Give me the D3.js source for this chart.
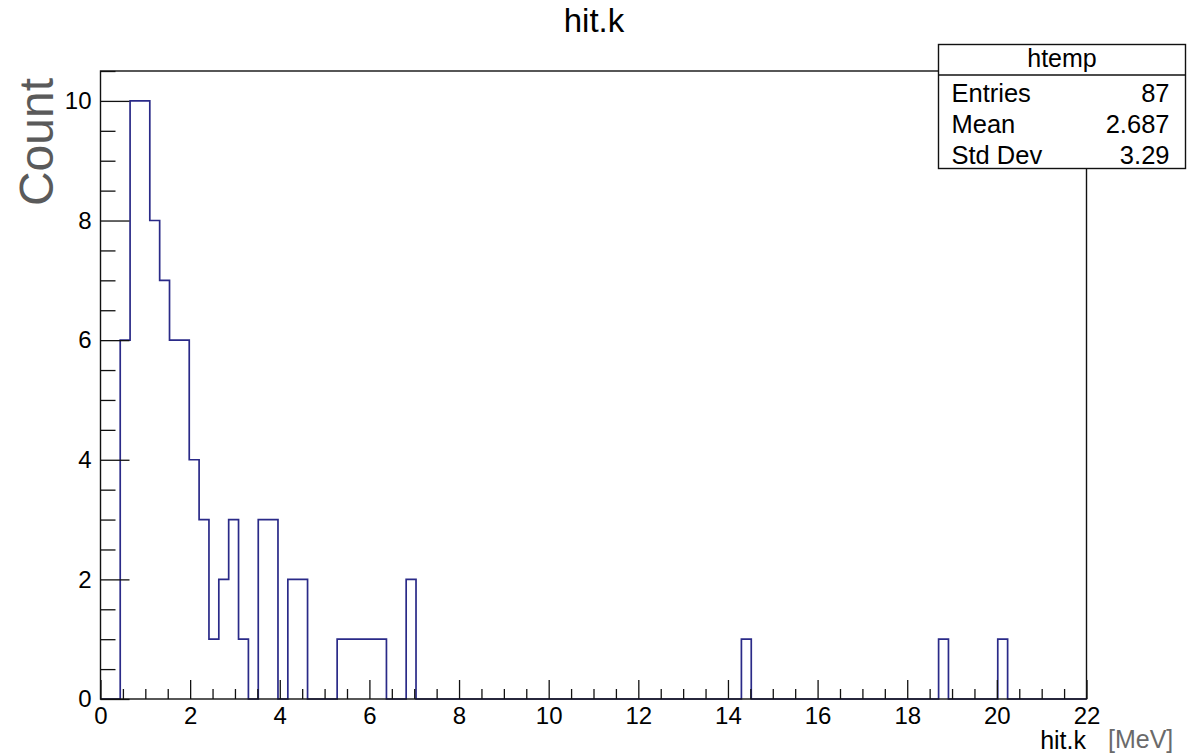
<!DOCTYPE html>
<html>
<head>
<meta charset="utf-8">
<script src="https://cdn.jsdelivr.net/npm/d3@7"></script>
<style>
  html, body { margin: 0; padding: 0; background: #fff; }
  svg { display: block; font-family: "Liberation Sans", Arial, Helvetica, sans-serif; }
</style>
</head>
<body>
<svg id="chart" width="1190" height="755"></svg>
<script>
// histogram htemp: 100 bins of width 0.22 over [0, 22]
var binLow = 0, binHigh = 22, nBins = 100;
var binCounts = [
  0, 0, 6, 10, 10, 8, 7, 6, 6, 4,
  3, 1, 2, 3, 1, 0, 3, 3, 0, 2,
  2, 0, 0, 0, 1, 1, 1, 1, 1, 0,
  0, 2, 0, 0, 0, 0, 0, 0, 0, 0,
  0, 0, 0, 0, 0, 0, 0, 0, 0, 0,
  0, 0, 0, 0, 0, 0, 0, 0, 0, 0,
  0, 0, 0, 0, 0, 1, 0, 0, 0, 0,
  0, 0, 0, 0, 0, 0, 0, 0, 0, 0,
  0, 0, 0, 0, 0, 1, 0, 0, 0, 0,
  0, 1, 0, 0, 0, 0, 0, 0, 0, 0
];
var xMajor = [0, 2, 4, 6, 8, 10, 12, 14, 16, 18, 20, 22];
var yMajor = [0, 2, 4, 6, 8, 10];
var statLabels = ['Entries', 'Mean', 'Std Dev'];
var statValues = ['87', '2.687', '3.29'];

var chart = {
  frame: { left: 100.5, right: 1086.5, top: 71, bottom: 699 },
  yMax: 10.5,

  init: function() {
    var self = this;
    self.svg = d3.select('#chart');

    self.x = d3.scaleLinear()
        .domain([binLow, binHigh])
        .range([self.frame.left, self.frame.right]);
    self.y = d3.scaleLinear()
        .domain([0, self.yMax])
        .range([self.frame.bottom, self.frame.top]);

    self.drawHist();
    self.drawAxes();
    self.drawFrame();
    self.drawStats();
    self.drawLabels();
  },

  drawHist: function() {
    var self = this;
    var w = (binHigh - binLow) / nBins;
    var pts = [[binLow, 0]];
    binCounts.forEach(function(c, i) {
      pts.push([binLow + i * w, c]);
      pts.push([binLow + (i + 1) * w, c]);
    });
    pts.push([binHigh, 0]);

    var line = d3.line()
        .x(function(d) { return self.x(d[0]); })
        .y(function(d) { return self.y(d[1]); });

    self.svg.append('path')
        .attr('d', line(pts))
        .attr('fill', 'none')
        .attr('stroke', '#2a2a88')
        .attr('stroke-width', 1.7);
  },

  drawAxes: function() {
    var self = this;
    var fb = self.frame.bottom, fl = self.frame.left;

    var xMinor = d3.range(0, 22.01, 0.5).filter(function(v) { return v % 2 !== 0; });
    var yMinor = d3.range(0, self.yMax + 0.01, 0.5).filter(function(v) { return v % 2 !== 0; });

    var gx = self.svg.append('g')
        .attr('transform', 'translate(0,' + fb + ')')
        .call(d3.axisBottom(self.x).tickValues(xMajor)
            .tickSizeInner(-19).tickSizeOuter(0).tickPadding(8)
            .tickFormat(d3.format('d')));
    var gxm = self.svg.append('g')
        .attr('transform', 'translate(0,' + fb + ')')
        .call(d3.axisBottom(self.x).tickValues(xMinor)
            .tickSizeInner(-10).tickSizeOuter(0).tickFormat(''));

    var gy = self.svg.append('g')
        .attr('transform', 'translate(' + fl + ',0)')
        .call(d3.axisLeft(self.y).tickValues(yMajor)
            .tickSizeInner(-29).tickSizeOuter(0).tickPadding(9)
            .tickFormat(d3.format('d')));
    var gym = self.svg.append('g')
        .attr('transform', 'translate(' + fl + ',0)')
        .call(d3.axisLeft(self.y).tickValues(yMinor)
            .tickSizeInner(-15).tickSizeOuter(0).tickFormat(''));

    [gx, gxm, gy, gym].forEach(function(g) {
      g.select('.domain').remove();
      g.selectAll('.tick line').attr('stroke', '#111').attr('stroke-width', 1.3);
      g.selectAll('.tick text')
          .attr('fill', '#000')
          .style('font-size', '24px')
          .style('font-family', '"Liberation Sans", Arial, sans-serif');
    });
  },

  drawFrame: function() {
    var f = this.frame;
    this.svg.append('rect')
        .attr('x', f.left).attr('y', f.top)
        .attr('width', f.right - f.left).attr('height', f.bottom - f.top)
        .attr('fill', 'none')
        .attr('stroke', '#111')
        .attr('stroke-width', 1.4);
  },

  drawStats: function() {
    var self = this;
    var bx = 938.5, by = 44.5, bw = 247, bh = 124, headH = 30.5;
    var g = self.svg.append('g');

    g.append('rect')
        .attr('x', bx).attr('y', by).attr('width', bw).attr('height', bh)
        .attr('fill', '#fff').attr('stroke', '#111').attr('stroke-width', 1.4);
    g.append('line')
        .attr('x1', bx).attr('x2', bx + bw)
        .attr('y1', by + headH).attr('y2', by + headH)
        .attr('stroke', '#111').attr('stroke-width', 1.4);
    g.append('text')
        .attr('x', bx + bw / 2).attr('y', by + 22.5)
        .attr('text-anchor', 'middle')
        .style('font-size', '25px')
        .text('htemp');

    statLabels.forEach(function(lab, i) {
      var ty = 101.5 + i * 31.2;
      g.append('text')
          .attr('x', 951.5).attr('y', ty)
          .style('font-size', '25.5px')
          .text(lab);
      g.append('text')
          .attr('x', 1169.5).attr('y', ty)
          .attr('text-anchor', 'end')
          .style('font-size', '25.5px')
          .text(statValues[i]);
    });
  },

  drawLabels: function() {
    var self = this;
    self.svg.append('text')
        .attr('x', 594).attr('y', 32)
        .attr('text-anchor', 'middle')
        .style('font-size', '33px')
        .text('hit.k');

    self.svg.append('text')
        .attr('transform', 'translate(53,78) rotate(-90)')
        .attr('text-anchor', 'end')
        .attr('fill', '#5a5a5a')
        .style('font-size', '48px')
        .text('Count');

    self.svg.append('text')
        .attr('x', 1086).attr('y', 749)
        .attr('text-anchor', 'end')
        .style('font-size', '25px')
        .text('hit.k');

    self.svg.append('text')
        .attr('x', 1108).attr('y', 748)
        .attr('fill', '#6a6a6a')
        .style('font-size', '25px')
        .text('[MeV]');
  }
};

chart.init();
</script>
</body>
</html>
